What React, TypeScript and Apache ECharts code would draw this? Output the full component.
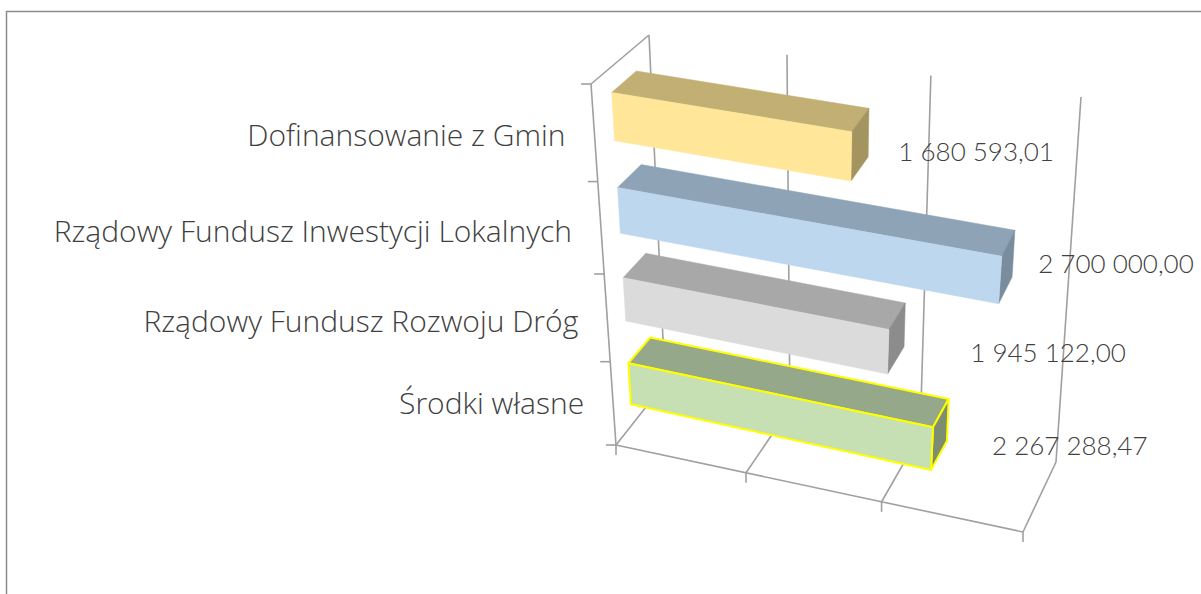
import React, { useEffect, useRef } from "react";
import * as echarts from "echarts";

const categories = ["Środki własne", "Rządowy Fundusz Rozwoju Dróg", "Rządowy Fundusz Inwestycji Lokalnych", "Dofinansowanie z Gmin"];
const values = [2267288.47, 1945122.0, 2700000.0, 1680593.01];
const valueLabels = ["2 267 288,47", "1 945 122,00", "2 700 000,00", "1 680 593,01"];
const xTicks = [0, 1000000, 2000000, 3000000];

const frontColors = ["#C6E0B4", "#DBDBDB", "#BDD7EE", "#FFE699"];
const topColors = ["#95A88A", "#A8A8A8", "#8EA3B6", "#C2AF74"];
const sideColors = ["#7C8D70", "#8C8C8C", "#7A8D9F", "#A4945F"];
const strokeColors = ["#FFFF00", "", "", ""];
const labelNudge = [[60, 0], [82, 3], [38, -13], [47, -3]];
const categoryNudge = [-1, 2, 2, 1];

const CAT_FONT = "Open Sans";
const VAL_FONT = "Lato";
const AXIS = "#A0A0A0";
type P = [number, number];
const F00: P = [616, 445], F10: P = [1023, 532], F01: P = [591, 84], F11: P = [1057, 154];
const B00: P = [665, 383], B10: P = [1056, 462], B01: P = [649, 35], B11: P = [1081, 97];
const warp = (t: number, k: number) => (t * k) / (1 + (k - 1) * t);
const lerp = (a: P, b: P, t: number): P => [a[0] + (b[0] - a[0]) * t, a[1] + (b[1] - a[1]) * t];
const project = (u: number, v: number, w: number): P => {
  const s = warp(u, 0.9388), t = warp(v, 0.9);
  const f = lerp(lerp(F00, F10, s), lerp(F01, F11, s), t);
  const b = lerp(lerp(B00, B10, s), lerp(B01, B11, s), t);
  return lerp(f, b, w);
};
const W0 = 0.33, W1 = 0.76;

export default function App() {
  const ref = useRef<HTMLDivElement>(null);
  useEffect(() => {
    const chart = echarts.init(ref.current!, undefined, { renderer: "svg" });
    const norm = (params: any, pt: number[]) => {
      const c = params.coordSys;
      return [(pt[0] - c.x) / c.width, (c.y + c.height - pt[1]) / c.height];
    };
    const line = (a: P, b: P) => ({
      type: "line",
      shape: { x1: a[0], y1: a[1], x2: b[0], y2: b[1] },
      style: { stroke: AXIS, lineWidth: 1.6 },
    });
    const renderFrame = (params: any, api: any) => {
      const children: any[] = [];
      const band = api.size([0, 1])[1];
      xTicks.forEach((t) => {
        const [u] = norm(params, api.coord([t, 0]));
        const f = project(u, 0, 0), b = project(u, 0, 1), top = project(u, 1, 1);
        children.push(line(b, top), line(f, b), line(f, [f[0], f[1] + 10]));
      });
      const [, v0] = norm(params, api.coord([0, 0]));
      const dv = band / params.coordSys.height;
      for (let i = 0; i <= categories.length; i++) {
        const p = project(0, v0 - dv / 2 + i * dv, 0);
        children.push(line(p, [p[0] - 10, p[1]]));
      }
      children.push(line(project(0, 0, 0), project(0, 1, 0)));
      children.push(line(project(0, 1, 0), project(0, 1, 1)));
      children.push(line(project(0, 0, 0), project(1, 0, 0)));
      return { type: "group", children };
    };
    const renderBar = (params: any, api: any) => {
      const i = params.dataIndex;
      const [u0] = norm(params, api.coord([api.value(0), i]));
      const [, vc] = norm(params, api.coord([0, i]));
      const u = u0 * (1 - 0.025 * vc);
      const h = api.size([0, 1])[1] / params.coordSys.height / 4;
      const v0 = vc - h, v1 = vc + h;
      const stroke = strokeColors[i];
      const pt = (a: number, v: number, w: number): P => {
        const p = project(a, v, w);
        return [p[0], p[1] + 5 * a];
      };
      const face = (pts: P[], fill: string) => ({
        type: "polygon",
        shape: { points: pts },
        style: { fill, stroke: stroke || fill, lineWidth: stroke ? 2 : 0.5, lineJoin: "round" },
      });
      const front = [pt(0, v1, W0), pt(u, v1, W0), pt(u, v0, W0), pt(0, v0, W0)];
      const top = [pt(0, v1, W0), pt(0, v1, W1), pt(u, v1, W1), pt(u, v1, W0)];
      const side = [pt(u, v1, W0), pt(u, v1, W1), pt(u, v0, W1), pt(u, v0, W0)];
      const anchor = project(u, vc, W0);
      const wall = project(0, vc, 0);
      const text = (t: string, x: number, y: number, align: string, fontFamily: string, fontSize: number) => ({
        type: "text",
        style: { text: t, x, y, align, verticalAlign: "middle", fontFamily, fontWeight: 300, fontSize, fill: "#404040" },
      });
      return {
        type: "group",
        children: [
          face(top, topColors[i]),
          face(side, sideColors[i]),
          face(front, frontColors[i]),
          text(categories[i], wall[0] - 29, wall[1] + categoryNudge[i], "right", CAT_FONT, 30),
          text(valueLabels[i], anchor[0] + labelNudge[i][0], anchor[1] + labelNudge[i][1], "left", VAL_FONT, 26),
        ],
      };
    };
    chart.setOption({
      animation: false,
      backgroundColor: "#FFFFFF",
      grid: { left: 0, right: 0, top: 0, bottom: 0 },
      xAxis: { type: "value", min: 0, max: 3000000, interval: 1000000, show: false },
      yAxis: { type: "category", data: categories, show: false },
      graphic: [
        { type: "polyline", shape: { points: [[6.5, 594], [6.5, 11.5], [1201, 11.5]] }, style: { stroke: "#8C8C8C", lineWidth: 1.5, fill: "none" } },
      ],
      series: [
        { type: "custom", silent: true, clip: false, data: [[0, 0]], renderItem: renderFrame, z: 1 },
        { type: "custom", silent: true, clip: false, data: values.map((v, i) => [v, i]), encode: { x: 0, y: 1 }, renderItem: renderBar, z: 2 },
      ],
    });
    return () => chart.dispose();
  }, []);
  return <div ref={ref} style={{ position: "absolute", left: 0, top: 0, width: 1201, height: 594 }} />;
}
